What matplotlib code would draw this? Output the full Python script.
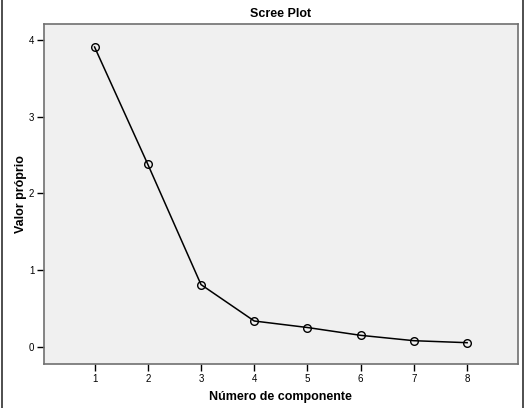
import matplotlib.pyplot as plt
from matplotlib.lines import Line2D

components = [1, 2, 3, 4, 5, 6, 7, 8]
eigenvalues = [3.91, 2.38, 0.81, 0.335, 0.25, 0.148, 0.078, 0.052]
y_ticks = [0, 1, 2, 3, 4]

plt.rcParams['font.family'] = ['Liberation Sans', 'DejaVu Sans']

fig = plt.figure(figsize=(5.25, 4.08), dpi=100)
ax = fig.add_axes([44 / 525, 44 / 408, (517.7 - 44) / 525, (364 - 24) / 408])
ax.set_facecolor('#f0f0f0')

ax.plot(components, eigenvalues, color='black', linewidth=1.1, marker='o',
        markersize=5.5, markerfacecolor='none', markeredgecolor='black', markeredgewidth=1)

ax.set_xlim(0.05, 8.95)
ax.set_ylim(-0.226, 4.21)
ax.set_xticks(components)
ax.set_yticks(y_ticks)
ax.tick_params(axis='both', direction='out', length=5, width=1, labelsize=7, pad=2)

for s in ax.spines.values():
    s.set_color('#707070')
    s.set_linewidth(1.2)

ax.set_title('Scree Plot', fontsize=9, fontweight='bold', pad=5)
ax.set_xlabel('Número de componente', fontsize=9, fontweight='bold', labelpad=5)
ax.set_ylabel('Valor próprio', fontsize=9, fontweight='bold')
ax.yaxis.set_label_coords(-0.036, 0.5)

# side frame lines of the original screenshot
fig.add_artist(Line2D([2 / 525, 2 / 525], [0, 1], color='#303030', linewidth=1.2))
fig.add_artist(Line2D([523 / 525, 523 / 525], [0, 1], color='#303030', linewidth=1.2))

fig.savefig('out.png', dpi=100)
